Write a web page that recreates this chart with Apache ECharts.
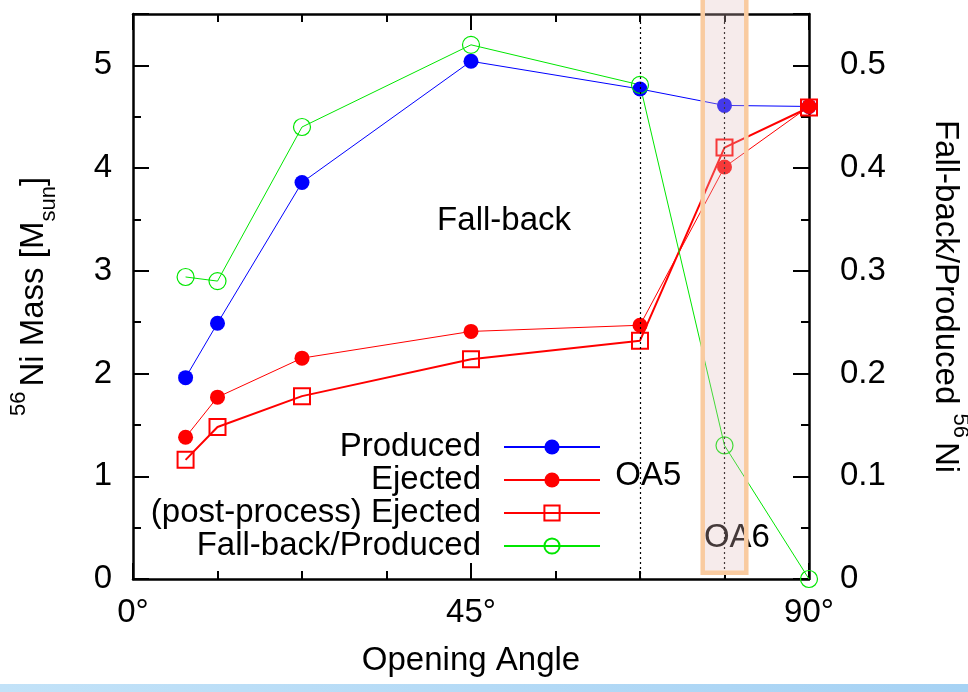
<!DOCTYPE html>
<html><head><meta charset="utf-8">
<script src="https://cdn.jsdelivr.net/npm/echarts@6/dist/echarts.min.js"></script>
<style>html,body{margin:0;padding:0;background:#fff}#c{width:968px;height:692px}</style>
</head><body><div id="c"></div>
<script>
// ---- data ----
const angles = [7, 11.25, 22.5, 45, 67.5, 78.75, 90];
const produced = [1.96, 2.49, 3.86, 5.04, 4.77, 4.61, 4.60];
const ejected = [1.38, 1.77, 2.15, 2.41, 2.47, 4.01, 4.60];
const ejectedPost = [1.16, 1.48, 1.78, 2.14, 2.32, 4.20, 4.59];
const fallbackRatio = [0.294, 0.290, 0.440, 0.520, 0.481, 0.130, 0.0];
const seriesNames = ['Produced', 'Ejected', '(post-process) Ejected', 'Fall-back/Produced'];
const oaLines = [67.5, 78.75];
const oa6Band = [75.85, 81.65];
const annotations = [
  { text: 'Fall-back', x: 49.4, y: 3.49 },
  { text: 'OA5', x: 68.6, y: 1.00 },
  { text: 'OA6', x: 80.4, y: 0.40 }
];

const FONT = 'Liberation Sans';
const FS = 33;
const pairs = (ys) => angles.map((a, i) => [a, ys[i]]);

const chart = echarts.init(document.getElementById('c'), null, { renderer: 'canvas' });

const axisCommon = {
  axisLine: { show: true, onZero: false, lineStyle: { color: '#000', width: 2.5 } },
  axisTick: { show: true, inside: true, length: 16, lineStyle: { color: '#000', width: 2 } },
  minorTick: { show: true, length: 8, lineStyle: { color: '#000', width: 2 } },
  splitLine: { show: false },
  minorSplitLine: { show: false }
};

const legendRows = [447, 480, 513, 546];
const legends = seriesNames.map((n, i) => ({
  data: [n],
  orient: 'horizontal',
  align: 'right',
  right: 367,
  top: legendRows[i] - 16.5,
  padding: 0,
  itemWidth: 96,
  itemHeight: 19,
  selectedMode: false,
  textStyle: { fontFamily: FONT, fontSize: FS, color: '#000', lineHeight: 33, padding: [0, 18, 0, 0] }
}));

const option = {
  animation: false,
  backgroundColor: '#fff',
  grid: { left: 133, right: 159, top: 14, bottom: 113, containLabel: false, outerBoundsMode: 'none' },
  legend: legends,
  xAxis: [
    Object.assign({}, axisCommon, {
      type: 'value', min: 0, max: 90, interval: 45, position: 'bottom',
      minorTick: Object.assign({}, axisCommon.minorTick, { splitNumber: 4 }),
      axisLabel: { margin: 17, fontFamily: FONT, fontSize: FS, color: '#000', formatter: v => v + '°' },
      name: 'Opening Angle', nameLocation: 'middle', nameGap: 65.5,
      nameTextStyle: { fontFamily: FONT, fontSize: FS, color: '#000', lineHeight: 33 }
    }),
    Object.assign({}, axisCommon, {
      type: 'value', min: 0, max: 90, interval: 45, position: 'top',
      minorTick: Object.assign({}, axisCommon.minorTick, { splitNumber: 4 }),
      axisLabel: { show: false }
    })
  ],
  yAxis: [
    Object.assign({}, axisCommon, {
      type: 'value', min: 0, max: 5.5, interval: 1, position: 'left',
      minorTick: Object.assign({}, axisCommon.minorTick, { splitNumber: 2 }),
      axisLabel: { margin: 21, fontFamily: FONT, fontSize: FS, color: '#000',
        formatter: v => (v <= 5.001 ? String(Math.round(v)) : '') },
      name: '{sup|56}{n|Ni Mass [M}{sub|sun}{n|]}',
      nameLocation: 'middle', nameRotate: 90, nameGap: 73.5,
      nameTextStyle: {
        fontFamily: FONT, color: '#000',
        rich: {
          n: { fontFamily: FONT, fontSize: FS, lineHeight: 52, color: '#000' },
          sup: { fontFamily: FONT, fontSize: 22, lineHeight: 22, verticalAlign: 'top', color: '#000', padding: [0, 5, 0, 0] },
          sub: { fontFamily: FONT, fontSize: 22, lineHeight: 22, verticalAlign: 'bottom', color: '#000' }
        }
      }
    }),
    Object.assign({}, axisCommon, {
      type: 'value', min: 0, max: 0.55, interval: 0.1, position: 'right',
      minorTick: Object.assign({}, axisCommon.minorTick, { splitNumber: 2 }),
      axisLabel: { margin: 31, fontFamily: FONT, fontSize: FS, color: '#000',
        formatter: v => (v <= 0.5001 ? String(+v.toFixed(1)) : '') },
      name: '{n|Fall-back/Produced }{sup|56}{n|Ni}',
      nameLocation: 'middle', nameRotate: -90, nameGap: 110,
      nameTextStyle: {
        fontFamily: FONT, color: '#000',
        rich: {
          n: { fontFamily: FONT, fontSize: FS, lineHeight: 52, color: '#000' },
          sup: { fontFamily: FONT, fontSize: 22, lineHeight: 22, verticalAlign: 'top', color: '#000', padding: [0, 4, 0, 0] }
        }
      }
    })
  ],
  series: [
    {
      name: seriesNames[0], type: 'line', xAxisIndex: 0, yAxisIndex: 0,
      data: pairs(produced), symbol: 'circle', symbolSize: 15,
      lineStyle: { color: '#0000ff', width: 1 }, itemStyle: { color: '#0000ff' },
      markLine: {
        silent: true, symbol: ['none', 'none'], label: { show: false },
        lineStyle: { color: '#000', type: [2, 3], width: 1.2 },
        data: oaLines.map(v => ({ xAxis: v }))
      }
    },
    {
      name: seriesNames[1], type: 'line', xAxisIndex: 0, yAxisIndex: 0,
      data: pairs(ejected), symbol: 'circle', symbolSize: 15,
      lineStyle: { color: '#ff0000', width: 1 }, itemStyle: { color: '#ff0000' }
    },
    {
      name: seriesNames[2], type: 'line', xAxisIndex: 0, yAxisIndex: 0,
      data: pairs(ejectedPost), symbol: 'rect', symbolSize: 16,
      lineStyle: { color: '#ff0000', width: 2 },
      itemStyle: { color: 'rgba(255,255,255,0)', borderColor: '#ff0000', borderWidth: 2 }
    },
    {
      name: seriesNames[3], type: 'line', xAxisIndex: 0, yAxisIndex: 1,
      data: pairs(fallbackRatio), symbol: 'circle', symbolSize: 17,
      lineStyle: { color: '#00e600', width: 1 },
      itemStyle: { color: 'rgba(255,255,255,0)', borderColor: '#00e600', borderWidth: 1.2 }
    }
  ]
};
chart.setOption(option);

// annotation overlays positioned through the chart's own scales
const toPx = (x, y) => chart.convertToPixel({ xAxisIndex: 0, yAxisIndex: 0 }, [x, y]);
const bandL = toPx(oa6Band[0], 0.06);
const bandR = toPx(oa6Band[1], 0.06);
const graphics = annotations.map(a => {
  const p = toPx(a.x, a.y);
  return {
    type: 'text', x: p[0], y: p[1], z: 5, silent: true,
    style: { text: a.text, fontFamily: FONT, fontSize: FS, fill: '#000', align: 'center', verticalAlign: 'middle' }
  };
});
graphics.push({
  type: 'rect', z: 20, silent: true,
  shape: { x: bandL[0], y: -10, width: bandR[0] - bandL[0], height: bandL[1] + 10 },
  style: { fill: 'rgba(225,190,190,0.3)', stroke: '#f9cba0', lineWidth: 4.5 }
});
graphics.push({
  type: 'rect', z: 20, silent: true,
  shape: { x: 0, y: 684, width: 968, height: 8 },
  style: { fill: new echarts.graphic.LinearGradient(0, 0, 1, 0, [
    { offset: 0, color: '#c2e2f8' }, { offset: 1, color: '#a6d2f4' }
  ]) }
});
chart.setOption({ graphic: graphics });
</script>
</body></html>
